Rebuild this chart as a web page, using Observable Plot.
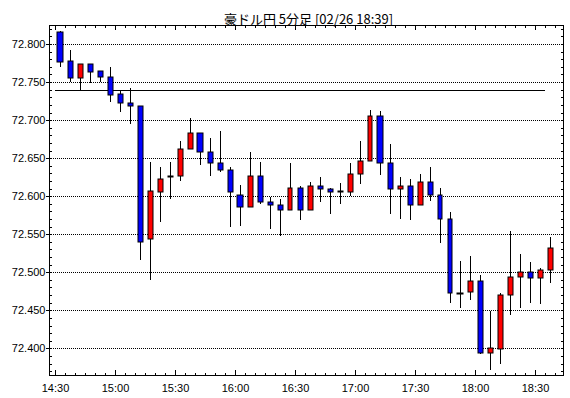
<!DOCTYPE html>
<html>
<head>
<meta charset="utf-8">
<script src="https://cdn.jsdelivr.net/npm/d3@7"></script>
<script src="https://cdn.jsdelivr.net/npm/@observablehq/plot@0.6"></script>
<style>
  html, body { margin: 0; padding: 0; background: #fff; }
</style>
</head>
<body>
<div id="chart"></div>
<script>
const title = "豪ドル円 5分足 [02/26 18:39]";

const times = ["14:30","14:35","14:40","14:45","14:50","14:55","15:00","15:05","15:10","15:15",
               "15:20","15:25","15:30","15:35","15:40","15:45","15:50","15:55","16:00","16:05",
               "16:10","16:15","16:20","16:25","16:30","16:35","16:40","16:45","16:50","16:55",
               "17:00","17:05","17:10","17:15","17:20","17:25","17:30","17:35","17:40","17:45",
               "17:50","17:55","18:00","18:05","18:10","18:15","18:20","18:25","18:30","18:35"];

const opens  = [72.816,72.778,72.755,72.774,72.764,72.757,72.734,72.722,72.719,72.544,
                72.606,72.625,72.626,72.662,72.683,72.658,72.643,72.635,72.602,72.586,
                72.627,72.593,72.588,72.582,72.611,72.582,72.614,72.610,72.605,72.606,
                72.629,72.646,72.705,72.643,72.609,72.613,72.589,72.619,72.602,72.570,
                72.472,72.474,72.489,72.394,72.399,72.470,72.494,72.5005,72.493,72.503];
const highs  = [72.817,72.792,72.774,72.774,72.765,72.770,72.739,72.742,72.719,72.645,
                72.638,72.645,72.672,72.703,72.683,72.676,72.686,72.638,72.615,72.658,
                72.645,72.599,72.596,72.644,72.613,72.619,72.625,72.611,72.618,72.644,
                72.672,72.713,72.712,72.669,72.625,72.622,72.629,72.638,72.611,72.579,
                72.515,72.521,72.497,72.449,72.473,72.554,72.524,72.514,72.506,72.547];
const lows   = [72.770,72.750,72.740,72.749,72.750,72.724,72.711,72.695,72.516,72.490,
                72.566,72.596,72.620,72.662,72.641,72.627,72.632,72.559,72.561,72.586,
                72.590,72.557,72.548,72.582,72.569,72.582,72.592,72.577,72.590,72.600,
                72.616,72.646,72.628,72.577,72.570,72.569,72.589,72.594,72.538,72.460,
                72.453,72.464,72.392,72.372,72.379,72.444,72.453,72.460,72.458,72.486];
const closes = [72.777,72.755,72.774,72.763,72.757,72.733,72.722,72.718,72.540,72.607,
                72.623,72.6263,72.662,72.683,72.658,72.643,72.635,72.605,72.586,72.627,
                72.593,72.588,72.582,72.611,72.582,72.614,72.610,72.605,72.6063,72.629,
                72.646,72.705,72.643,72.609,72.613,72.589,72.619,72.602,72.570,72.473,
                72.4733,72.489,72.394,72.400,72.470,72.494,72.5005,72.493,72.503,72.532];

const yTickValues = [72.400, 72.450, 72.500, 72.550, 72.600, 72.650, 72.700, 72.750, 72.800];
const xTickLabels = ["14:30","15:00","15:30","16:00","16:30","17:00","17:30","18:00","18:30"];

const refLevel = 72.740;
const refStart = "14:30";
const refEnd = "18:35";

const xDomain = ["14:27", "18:44"];
const yDomain = [72.365, 72.825];

const upColor = "#ff0000";
const downColor = "#0000ff";

const MIN = 60000;
const toDate = s => { const [h, m] = s.split(":").map(Number); return new Date(Date.UTC(2021, 1, 26, h, m)); };

const candles = times.map((t, i) => {
  const c = +toDate(t) + 2.5 * MIN;
  return {
    t: new Date(c),
    left: new Date(c - 1.25 * MIN),
    right: new Date(c + 1.25 * MIN),
    open: opens[i], high: highs[i], low: lows[i], close: closes[i],
    color: closes[i] >= opens[i] ? upColor : downColor
  };
});

const yMinor = d3.range(72.37, 72.8201, 0.01).map(v => +v.toFixed(3));
const xMinor = d3.utcMinute.every(5).range(toDate("14:30"), toDate("18:41"));
const xMajor = xTickLabels.map(toDate);

const chart = Plot.plot({
  width: 570,
  height: 398,
  marginLeft: 49,
  marginRight: 7,
  marginTop: 25,
  marginBottom: 23,
  style: { fontFamily: "'Liberation Sans', Arial, sans-serif", fontSize: "11px", background: "#fff", color: "#000" },
  x: { type: "utc", domain: xDomain.map(toDate), round: true },
  y: { domain: yDomain, round: true },
  color: { type: "identity" },
  marks: [
    Plot.ruleY(yTickValues, { stroke: "#000", strokeDasharray: "1,1" }),
    Plot.ruleY([{ y: refLevel, x1: toDate(refStart), x2: toDate(refEnd) }], { y: "y", x1: "x1", x2: "x2", stroke: "#000" }),
    Plot.ruleX(candles, { x: "t", y1: "low", y2: "high", stroke: "#000" }),
    Plot.rect(candles, { x1: "left", x2: "right", y1: "open", y2: "close", fill: "color", stroke: "#000", strokeWidth: 1 }),
    Plot.frame({ stroke: "#000" }),
    Plot.axisY(yTickValues, { anchor: "left", tickSize: 3, tickPadding: 1, tickFormat: d3.format(".3f"), label: null, fontSize: 11 }),
    Plot.axisY(yMinor, { anchor: "left", tickSize: -3, tickFormat: () => "", label: null }),
    Plot.axisY(yMinor, { anchor: "right", tickSize: -3, tickFormat: () => "", label: null }),
    Plot.axisX(xMajor, { anchor: "bottom", tickSize: 0, tickPadding: 9, tickFormat: d3.utcFormat("%H:%M"), label: null, fontSize: 11 }),
    Plot.axisX(xMinor, { anchor: "bottom", tickSize: -2, tickFormat: () => "", label: null }),
    Plot.axisX(xMajor, { anchor: "bottom", tickSize: -5, tickFormat: () => "", label: null }),
    Plot.axisX(xMinor, { anchor: "top", tickSize: -2, tickFormat: () => "", label: null }),
    Plot.axisX(xMajor, { anchor: "top", tickSize: -4, tickFormat: () => "", label: null }),
    Plot.text([title], { text: d => d, frameAnchor: "top", dx: 2, dy: -11, fontSize: 13, fontFamily: "'Noto Sans CJK JP', sans-serif", fill: "#000" })
  ]
});
document.getElementById("chart").appendChild(chart);
</script>
</body>
</html>
